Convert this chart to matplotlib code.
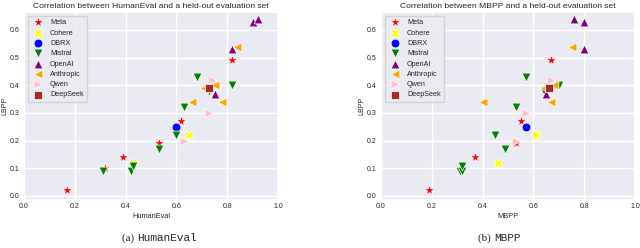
import matplotlib
matplotlib.use('agg')
import matplotlib.pyplot as plt
import seaborn as sns

sns.set_theme(style='darkgrid')
plt.rcParams['font.family'] = ['Liberation Sans', 'DejaVu Sans']

families = ['Meta', 'Cohere', 'DBRX', 'Mistral', 'OpenAI', 'Anthropic', 'Qwen', 'DeepSeek']
colors = {'Meta': 'red', 'Cohere': 'yellow', 'DBRX': 'blue', 'Mistral': 'green',
          'OpenAI': 'purple', 'Anthropic': 'orange', 'Qwen': 'pink', 'DeepSeek': 'brown'}
markers = {'Meta': '*', 'Cohere': 'X', 'DBRX': 'o', 'Mistral': 'v',
           'OpenAI': '^', 'Anthropic': '<', 'Qwen': '>', 'DeepSeek': 's'}

# scores per model family, same model order in each dict
humaneval = {
    'Meta': [0.17, 0.32, 0.39, 0.53, 0.62, 0.82],
    'Cohere': [0.43, 0.65],
    'DBRX': [0.60],
    'Mistral': [0.31, 0.42, 0.43, 0.53, 0.60, 0.63, 0.68, 0.73, 0.82],
    'OpenAI': [0.90, 0.92, 0.82, 0.75],
    'Anthropic': [0.84, 0.66, 0.71, 0.75, 0.78],
    'Qwen': [0.74, 0.73, 0.63],
    'DeepSeek': [0.73],
}
mbpp = {
    'Meta': [0.19, 0.31, 0.37, 0.53, 0.55, 0.67],
    'Cohere': [0.46, 0.61],
    'DBRX': [0.57],
    'Mistral': [0.31, 0.32, 0.32, 0.49, 0.45, 0.53, 0.57, 0.64, 0.70],
    'OpenAI': [0.80, 0.76, 0.80, 0.65],
    'Anthropic': [0.75, 0.40, 0.64, 0.68, 0.67],
    'Qwen': [0.67, 0.57, 0.53],
    'DeepSeek': [0.66],
}
lbpp = {
    'Meta': [0.02, 0.10, 0.14, 0.19, 0.27, 0.49],
    'Cohere': [0.12, 0.22],
    'DBRX': [0.25],
    'Mistral': [0.09, 0.09, 0.11, 0.17, 0.22, 0.32, 0.43, 0.38, 0.40],
    'OpenAI': [0.63, 0.64, 0.53, 0.37],
    'Anthropic': [0.54, 0.34, 0.39, 0.40, 0.34],
    'Qwen': [0.42, 0.30, 0.20],
    'DeepSeek': [0.39],
}

fig = plt.figure(figsize=(6.4, 2.48), dpi=100)
ax1 = fig.add_axes([24 / 640, 48 / 248, 254 / 640, 188 / 248])
ax2 = fig.add_axes([381 / 640, 48 / 248, 254 / 640, 188 / 248])

for ax, xdata, xname in [(ax1, humaneval, 'HumanEval'), (ax2, mbpp, 'MBPP')]:
    for fam in families:
        s = 60 if markers[fam] == '*' else 40
        ax.scatter(xdata[fam], lbpp[fam], c=colors[fam], marker=markers[fam],
                   s=s, edgecolors='white', linewidths=0.5, label=fam)
    ax.set_xlim(0, 1.0)
    ax.set_ylim(-0.0145, 0.665)
    ax.set_xticks([0.0, 0.2, 0.4, 0.6, 0.8, 1.0])
    ax.set_yticks([0.0, 0.1, 0.2, 0.3, 0.4, 0.5, 0.6])
    ax.tick_params(axis='x', labelsize=5, length=0, pad=2.5)
    ax.tick_params(axis='y', labelsize=5, length=0, pad=3.5)
    ax.set_xlabel(xname, fontsize=5.3, labelpad=2)
    ax.set_ylabel('LBPP', fontsize=5)
    ax.yaxis.set_label_coords(-0.063, 0.5)
    ax.set_title('Correlation between ' + xname + ' and a held-out evaluation set',
                 fontsize=6.1, pad=3)
    ax.legend(loc='upper left', fontsize=5.2, frameon=True,
              handletextpad=0.6, labelspacing=0.45, borderpad=0.5)

for x, tag, name in [(137 / 640, '(a) ', 'HumanEval'), (494 / 640, '(b) ', 'MBPP')]:
    fig.text(x, 0.04, tag, fontsize=8, family='Liberation Serif', ha='right', va='center')
    fig.text(x, 0.04, name, fontsize=8, family='Liberation Mono', ha='left', va='center')

fig.savefig('out.png', dpi=100)
